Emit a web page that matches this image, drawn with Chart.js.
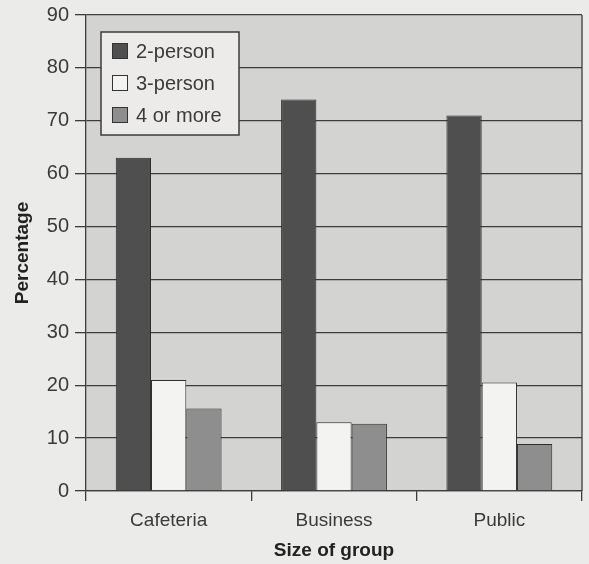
<!DOCTYPE html>
<html>
<head>
<meta charset="utf-8">
<script src="https://cdn.jsdelivr.net/npm/chart.js@4/dist/chart.umd.min.js"></script>
<style>
  html, body { margin: 0; padding: 0; background: #ebebea; }
  #wrap { width: 589px; height: 564px; position: relative; }
</style>
</head>
<body>
<div id="wrap"><canvas id="c" width="589" height="564"></canvas></div>
<script>
const categories = ["Cafeteria", "Business", "Public"];
const seriesNames = ["2-person", "3-person", "4 or more"];
const twoPerson = [63, 74, 71];
const threePerson = [21, 13, 20.5];
const fourOrMore = [15.6, 12.7, 8.9];
const yTicks = [0, 10, 20, 30, 40, 50, 60, 70, 80, 90];

const fills = ["#4f4f4f", "#f3f3f2", "#8e8e8e"];
const FONT = "'Liberation Sans', Arial, Helvetica, sans-serif";

const plotBg = {
  id: 'plotBg',
  beforeDraw(chart) {
    const {ctx, chartArea: a} = chart;
    ctx.save();
    ctx.fillStyle = '#d3d3d2';
    ctx.fillRect(a.left, a.top, a.right - a.left, a.bottom - a.top);
    ctx.restore();
  },
  afterDatasetsDraw(chart) {
    const {ctx, chartArea: a} = chart;
    ctx.save();
    ctx.strokeStyle = '#3c3c3c';
    ctx.lineWidth = 1.3;
    ctx.beginPath();
    ctx.moveTo(a.right, a.top);
    ctx.lineTo(a.right, a.bottom);
    ctx.stroke();
    ctx.restore();
  }
};

const boxLegend = {
  id: 'boxLegend',
  afterDraw(chart) {
    const {ctx} = chart;
    const x = 101, y = 32, w = 138, h = 103;
    ctx.save();
    ctx.fillStyle = '#ecebea';
    ctx.fillRect(x, y, w, h);
    ctx.strokeStyle = '#3c3c3c';
    ctx.lineWidth = 1.5;
    ctx.strokeRect(x, y, w, h);
    ctx.font = "20px " + FONT;
    ctx.textBaseline = 'middle';
    chart.data.datasets.forEach((ds, i) => {
      const cy = 51 + i * 32;
      ctx.fillStyle = ds.backgroundColor;
      ctx.fillRect(112, cy - 8, 16, 16);
      ctx.strokeStyle = '#333';
      ctx.lineWidth = 1;
      ctx.strokeRect(112.5, cy - 7.5, 15, 15);
      ctx.fillStyle = '#3a3a3a';
      ctx.fillText(ds.label, 136, cy + 1);
    });
    ctx.restore();
  }
};

new Chart(document.getElementById('c'), {
  type: 'bar',
  data: {
    labels: categories,
    datasets: [
      { label: seriesNames[0], data: twoPerson, backgroundColor: fills[0] },
      { label: seriesNames[1], data: threePerson, backgroundColor: fills[1] },
      { label: seriesNames[2], data: fourOrMore, backgroundColor: fills[2] }
    ]
  },
  options: {
    responsive: false,
    animation: false,
    layout: { padding: { left: 0, right: 7, top: 15, bottom: 0 } },
    datasets: {
      bar: {
        borderColor: '#2e2e2e',
        borderWidth: 1,
        categoryPercentage: 0.64,
        barPercentage: 1.0
      }
    },
    plugins: {
      legend: { display: false },
      tooltip: { enabled: false }
    },
    scales: {
      x: {
        offset: true,
        grid: {
          offset: true,
          drawOnChartArea: false,
          drawTicks: true,
          tickLength: 10,
          color: '#3c3c3c',
          lineWidth: 1.3
        },
        border: { display: true, color: '#3c3c3c', width: 1.3 },
        ticks: {
          color: '#3a3a3a',
          font: { family: FONT, size: 19 },
          padding: 8
        },
        title: {
          display: true,
          text: 'Size of group',
          color: '#222',
          font: { family: FONT, size: 19, weight: 'bold' },
          padding: { top: 2, bottom: 2 }
        },
        afterFit(scale) { scale.height = 73; scale.paddingLeft = 0; scale.paddingRight = 0; }
      },
      y: {
        min: 0,
        max: 90,
        afterBuildTicks(scale) { scale.ticks = yTicks.map(v => ({ value: v })); },
        grid: {
          color: '#3c3c3c',
          lineWidth: 1.3,
          drawTicks: true,
          tickLength: 11
        },
        border: { display: true, color: '#3c3c3c', width: 1.3 },
        ticks: {
          color: '#3a3a3a',
          font: { family: FONT, size: 20 },
          padding: 6
        },
        title: {
          display: true,
          text: 'Percentage',
          color: '#222',
          font: { family: FONT, size: 19, weight: 'bold' },
          padding: { top: 11, bottom: 4 }
        },
        afterFit(scale) { scale.width = 86; scale.paddingTop = 0; scale.paddingBottom = 0; }
      }
    }
  },
  plugins: [plotBg, boxLegend]
});
</script>
</body>
</html>
